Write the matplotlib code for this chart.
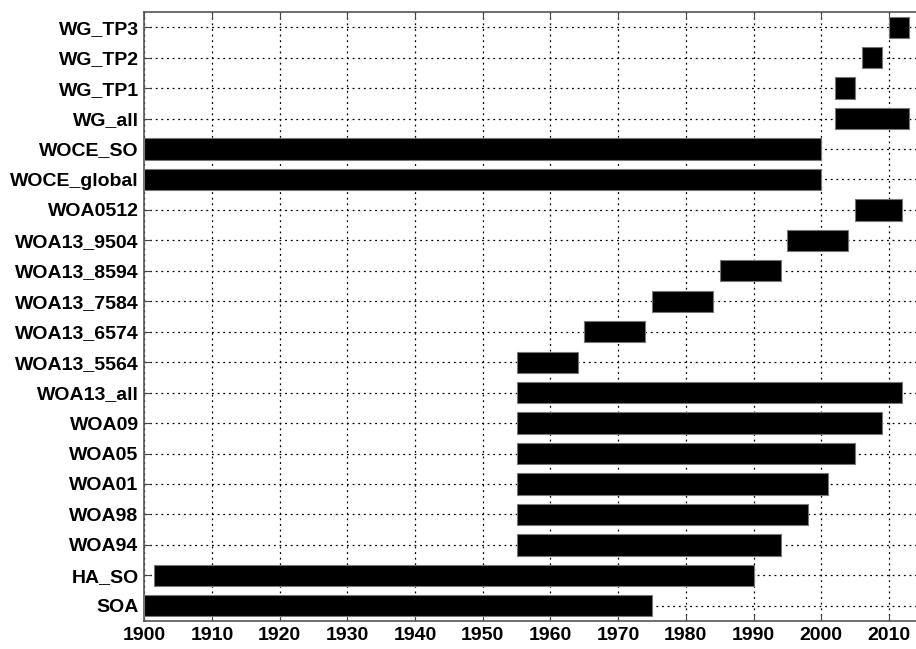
import matplotlib
matplotlib.use("Agg")
from matplotlib import pyplot as plt

# climatology / dataset names, bottom to top
names = ["SOA", "HA_SO", "WOA94", "WOA98", "WOA01", "WOA05", "WOA09",
         "WOA13_all", "WOA13_5564", "WOA13_6574", "WOA13_7584",
         "WOA13_8594", "WOA13_9504", "WOA0512", "WOCE_global", "WOCE_SO",
         "WG_all", "WG_TP1", "WG_TP2", "WG_TP3"]
start_year = [1900, 1901.5, 1955, 1955, 1955, 1955, 1955,
              1955, 1955, 1965, 1975,
              1985, 1995, 2005, 1900, 1900,
              2002, 2002, 2006, 2010]
end_year = [1975, 1990, 1994, 1998, 2001, 2005, 2009,
            2012, 1964, 1974, 1984,
            1994, 2004, 2012, 2000, 2000,
            2013, 2005, 2009, 2013]
decades = list(range(1900, 2011, 10))

plt.rcParams['font.family'] = ['Liberation Sans', 'DejaVu Sans']
plt.rcParams['font.weight'] = 'bold'

fig = plt.figure(figsize=(9.16, 6.49), dpi=100)
ax = fig.add_axes([0.1575, 0.0431, 0.8425, 0.9384])

ypos = list(range(1, len(names) + 1))
widths = [e - s for s, e in zip(start_year, end_year)]
ax.barh(ypos, widths, left=start_year, height=0.7, color='black',
        edgecolor='#777777', linewidth=0.8, zorder=3)

ax.set_xlim(1900, 2014)
ax.set_ylim(0.5, len(names) + 0.5)
ax.set_xticks(decades)
ax.set_yticks(ypos)
ax.set_yticklabels(names)

ax.grid(True, linestyle=(0, (1.5, 3)), color='black', linewidth=0.9, zorder=0)
ax.set_axisbelow(True)

ax.tick_params(axis='both', direction='in', labelsize=14, color='#444444',
               length=5, width=0.8, top=True, right=False)
ax.tick_params(axis='x', pad=4)
ax.tick_params(axis='y', pad=4)
for lab in ax.get_xticklabels() + ax.get_yticklabels():
    lab.set_fontweight('bold')

for side in ['left', 'bottom', 'top']:
    ax.spines[side].set_color('#555555')
    ax.spines[side].set_linewidth(1.2)
ax.spines['right'].set_visible(False)

fig.savefig('out.png', dpi=100)
